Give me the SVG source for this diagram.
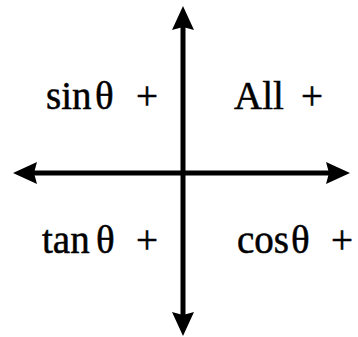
<svg xmlns="http://www.w3.org/2000/svg" width="358" height="337" viewBox="0 0 358 337">
<style>
.lbl{font-family:"Liberation Serif","Times New Roman",serif;font-size:39px;fill:#000;stroke:#000;stroke-width:0.5}
.axis{stroke:#000;stroke-width:5;fill:none;marker-start:url(#ah);marker-end:url(#ah)}
</style>
<defs>
<marker id="ah" viewBox="0 0 24 22" markerWidth="24" markerHeight="22" refX="3" refY="11" orient="auto-start-reverse" markerUnits="userSpaceOnUse">
<path d="M0,0 L24,11 L0,22 L3,11 Z" fill="#000"/>
</marker>
</defs>
<rect width="358" height="337" fill="#fff"/>
<g id="connectors">
<line class="axis" x1="34" y1="173" x2="329" y2="173"/>
<line class="axis" x1="183" y1="27" x2="183" y2="315"/>
</g>
<g id="q2"><text class="lbl" x="46" y="109">sin</text><text class="lbl" x="95" y="109">θ</text><text class="lbl" x="136" y="109">+</text></g>
<g id="q1"><text class="lbl" x="234" y="109">All</text><text class="lbl" x="301" y="109">+</text></g>
<g id="q3"><text class="lbl" x="42" y="253">tan</text><text class="lbl" x="96" y="253">θ</text><text class="lbl" x="136" y="253">+</text></g>
<g id="q4"><text class="lbl" x="237" y="253">cos</text><text class="lbl" x="291" y="253">θ</text><text class="lbl" x="331" y="253">+</text></g>
</svg>
